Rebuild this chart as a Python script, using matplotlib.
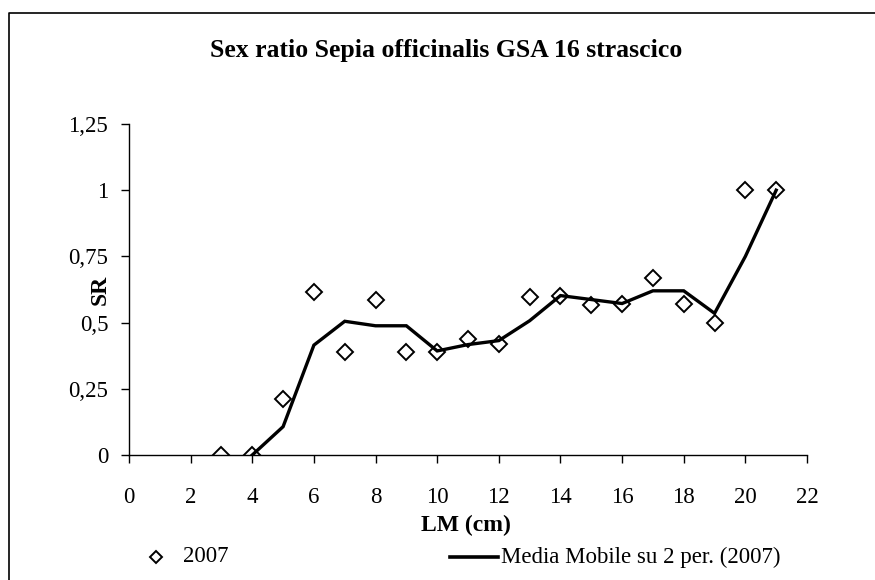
import matplotlib
matplotlib.use("Agg")
import matplotlib.pyplot as plt
from matplotlib.lines import Line2D

# Data
lm_points = [3, 4, 5, 6, 7, 8, 9, 10, 11, 12, 13, 14, 15, 16, 17, 18, 19, 20, 21]
sr_2007 = [0.0, 0.0, 0.21, 0.615, 0.39, 0.585, 0.39, 0.39, 0.438, 0.42, 0.597,
           0.601, 0.566, 0.572, 0.67, 0.572, 0.497, 1.0, 1.0]
lm_ma = [4, 5, 6, 7, 8, 9, 10, 11, 12, 13, 14, 15, 16, 17, 18, 19, 20, 21]
sr_ma = [0.0, 0.107, 0.415, 0.505, 0.488, 0.488, 0.393, 0.417, 0.432, 0.507,
         0.602, 0.587, 0.572, 0.62, 0.62, 0.535, 0.75, 1.0]
x_ticks = [0, 2, 4, 6, 8, 10, 12, 14, 16, 18, 20, 22]
y_ticks = [0, 0.25, 0.5, 0.75, 1.0, 1.25]
y_tick_labels = ["0", "0,25", "0,5", "0,75", "1", "1,25"]

title = "Sex ratio Sepia officinalis GSA 16 strascico"
x_label = "LM (cm)"
y_label = "SR"
legend_points = "2007"
legend_line = "Media Mobile su 2 per. (2007)"

plt.rcParams['font.family'] = ['Liberation Serif', 'DejaVu Serif']

fig = plt.figure(figsize=(8.75, 5.8), dpi=100)
ax = fig.add_axes([129/875, 1-455/580, (807-129)/875, (455-124)/580])

ax.plot(lm_ma, sr_ma, color='black', lw=2.4, solid_joinstyle='miter', zorder=3)
ax.plot(lm_points, sr_2007, linestyle='none', marker='D', markersize=8,
        markerfacecolor='white', markeredgecolor='black', markeredgewidth=1.4, zorder=2)

ax.set_xlim(0, 22)
ax.set_ylim(0, 1.25)
ax.set_xticks(x_ticks)
ax.set_xticklabels([str(t) for t in x_ticks])
ax.set_yticks(y_ticks)
ax.set_yticklabels(y_tick_labels)
ax.tick_params(direction='out', length=6, width=1, labelsize=16.5, colors='black')
ax.tick_params(axis='x', pad=17)
ax.tick_params(axis='y', pad=9)
for s in ['top', 'right']:
    ax.spines[s].set_visible(False)
for s in ['left', 'bottom']:
    ax.spines[s].set_linewidth(1)

fig.text(446/875, 1-51/580, title, ha='center', va='center', fontsize=18.5, fontweight='bold')
fig.text(466/875, 1-525/580, x_label, ha='center', va='center', fontsize=17, fontweight='bold')
fig.text(100/875, 1-290/580, y_label, ha='center', va='center', fontsize=17,
         fontweight='bold', rotation=90)

# Legend (placed manually)
fig.add_artist(Line2D([156/875], [1-557/580], marker='D', markersize=6,
                      markerfacecolor='white', markeredgecolor='black',
                      markeredgewidth=1.4, linestyle='none'))
fig.text(183/875, 1-557/580, legend_points, ha='left', va='center', fontsize=16.5)
fig.add_artist(Line2D([450/875, 498/875], [1-557/580, 1-557/580], color='black', lw=2.6))
fig.text(501/875, 1-557/580, legend_line, ha='left', va='center', fontsize=16.5)

# Outer chart frame
fig.add_artist(Line2D([9/875, 9/875, 1.0], [0.0, 1-13/580, 1-13/580], color='black', lw=1.2))

fig.savefig("out.png", dpi=100, facecolor='white')
